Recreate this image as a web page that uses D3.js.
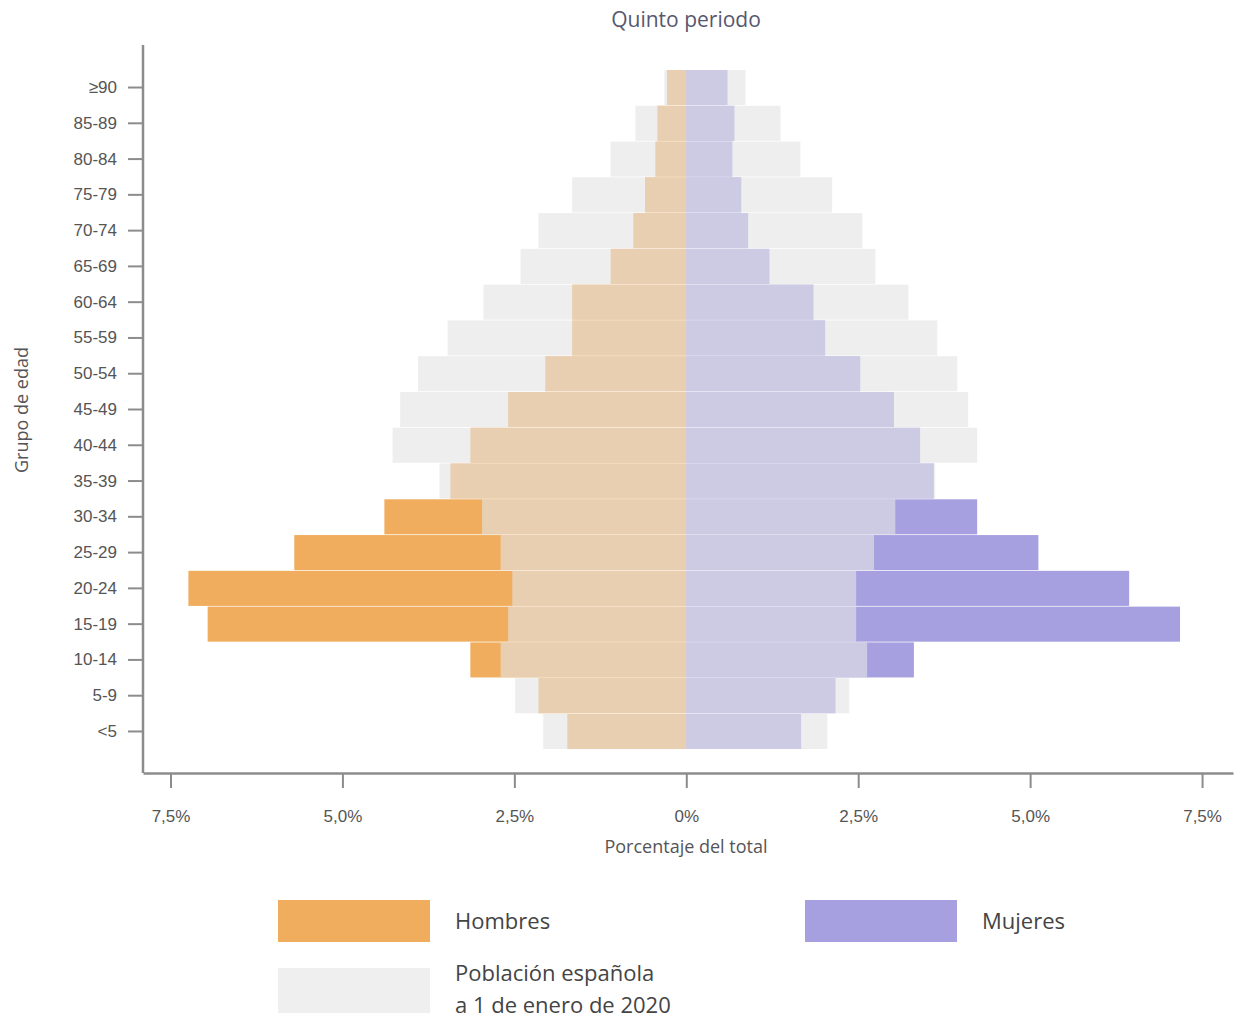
<!DOCTYPE html>
<html>
<head>
<meta charset="utf-8">
<script src="https://cdn.jsdelivr.net/npm/d3@7"></script>
<style>
  body { margin: 0; background: #fff; }
  svg { display: block; font-family: "Open Sans", "Noto Sans", sans-serif; }
</style>
</head>
<body>
<svg id="chart" width="1258" height="1027"></svg>
<script>
// ---- Data (percent of total) ----
const ageGroups = ["≥90","85-89","80-84","75-79","70-74","65-69","60-64","55-59","50-54","45-49","40-44","35-39","30-34","25-29","20-24","15-19","10-14","5-9","<5"];
// Quinto periodo
const hombres = [0.28,0.42,0.45,0.60,0.77,1.10,1.66,1.66,2.05,2.59,3.14,3.43,4.39,5.70,7.24,6.96,3.14,2.15,1.73];
const mujeres = [0.60,0.70,0.67,0.80,0.90,1.21,1.85,2.02,2.53,3.02,3.40,3.60,4.23,5.12,6.44,7.18,3.31,2.17,1.67];
// Población española a 1 de enero de 2020
const refHombres = [0.32,0.74,1.10,1.66,2.15,2.41,2.95,3.47,3.90,4.16,4.27,3.59,2.97,2.70,2.53,2.59,2.70,2.49,2.08];
const refMujeres = [0.86,1.37,1.66,2.12,2.56,2.75,3.23,3.65,3.94,4.10,4.23,3.62,3.04,2.73,2.47,2.47,2.63,2.37,2.05];
const xTicks = [-7.5,-5,-2.5,0,2.5,5,7.5];
const xTickLabels = ["7,5%","5,0%","2,5%","0%","2,5%","5,0%","7,5%"];
const legendItems = [
  {label:["Hombres"], key:"h"},
  {label:["Mujeres"], key:"m"},
  {label:["Población española","a 1 de enero de 2020"], key:"r"}
];

const colH = "#f0ad5e", colM = "#a6a0e0", colRef = "#e5e5e5", refOpacity = 0.62;
const axisCol = "#8c8c8c", textCol = "#555";

const svg = d3.select("#chart");
const x = d3.scaleLinear().domain([-7.9, 7.95]).range([143, 1233]);
const y = d3.scaleBand().domain(ageGroups).range([70, 749]).paddingInner(0.02);

const rows = ageGroups.map((g,i)=>({g, h:hombres[i], m:mujeres[i], rh:refHombres[i], rm:refMujeres[i]}));

// period bars
const gBars = svg.append("g");
gBars.selectAll("rect.h").data(rows).join("rect")
  .attr("x", d=>x(-d.h)).attr("width", d=>x(0)-x(-d.h))
  .attr("y", d=>y(d.g)).attr("height", y.bandwidth()).attr("fill", colH);
gBars.selectAll("rect.m").data(rows).join("rect")
  .attr("x", x(0)).attr("width", d=>x(d.m)-x(0))
  .attr("y", d=>y(d.g)).attr("height", y.bandwidth()).attr("fill", colM);
// reference population overlay
const gRef = svg.append("g").attr("opacity", refOpacity);
gRef.selectAll("rect.rh").data(rows).join("rect")
  .attr("x", d=>x(-d.rh)).attr("width", d=>x(0)-x(-d.rh))
  .attr("y", d=>y(d.g)).attr("height", y.bandwidth()).attr("fill", colRef);
gRef.selectAll("rect.rm").data(rows).join("rect")
  .attr("x", x(0)).attr("width", d=>x(d.rm)-x(0))
  .attr("y", d=>y(d.g)).attr("height", y.bandwidth()).attr("fill", colRef);

// X axis
const xAxis = d3.axisBottom(x).tickValues(xTicks)
  .tickFormat((d,i)=>xTickLabels[i]).tickSize(15).tickSizeOuter(0).tickPadding(22);
const gx = svg.append("g").attr("transform","translate(0,773)").call(xAxis);
gx.select(".domain").attr("stroke", axisCol).attr("stroke-width", 2.5);
gx.selectAll(".tick line").attr("stroke", axisCol).attr("stroke-width", 2);
gx.selectAll(".tick text").attr("fill", textCol).attr("font-size", 17);

// Y axis
const yAxis = d3.axisLeft(y).tickSize(15).tickSizeOuter(0).tickPadding(11);
const gy = svg.append("g").attr("transform","translate(143,0)").call(yAxis);
gy.select(".domain").attr("d", "M0,45V773").attr("stroke", axisCol).attr("stroke-width", 2.5);
gy.selectAll(".tick line").attr("stroke", axisCol).attr("stroke-width", 2);
gy.selectAll(".tick text").attr("fill", textCol).attr("font-size", 17);

// Titles
svg.append("text").attr("x", 686).attr("y", 27).attr("text-anchor","middle")
  .attr("font-size", 21).attr("fill", "#57576e").text("Quinto periodo");
svg.append("text").attr("x", 686).attr("y", 853).attr("text-anchor","middle")
  .attr("font-size", 18).attr("fill", textCol).text("Porcentaje del total");
svg.append("text").attr("transform","translate(28,410) rotate(-90)").attr("text-anchor","middle")
  .attr("font-size", 18).attr("fill", textCol).text("Grupo de edad");

// Legend
const legPos = {h:[278,900,42], m:[805,900,42], r:[278,968,45]};
const legFill = {h:colH, m:colM, r:"#efefef"};
const gl = svg.append("g");
legendItems.forEach(it=>{
  const [lx,ly,lh] = legPos[it.key];
  gl.append("rect").attr("x",lx).attr("y",ly).attr("width",152).attr("height",lh).attr("fill",legFill[it.key]);
  const t = gl.append("text").attr("x", lx+177).attr("font-size", 22).attr("fill", "#444");
  if (it.label.length === 1) {
    t.attr("y", ly+lh/2+8).text(it.label[0]);
  } else {
    t.attr("y", ly+13).text(it.label[0]);
    gl.append("text").attr("x", lx+177).attr("y", ly+45).attr("font-size", 22).attr("fill", "#444").text(it.label[1]);
  }
});
</script>
</body>
</html>
